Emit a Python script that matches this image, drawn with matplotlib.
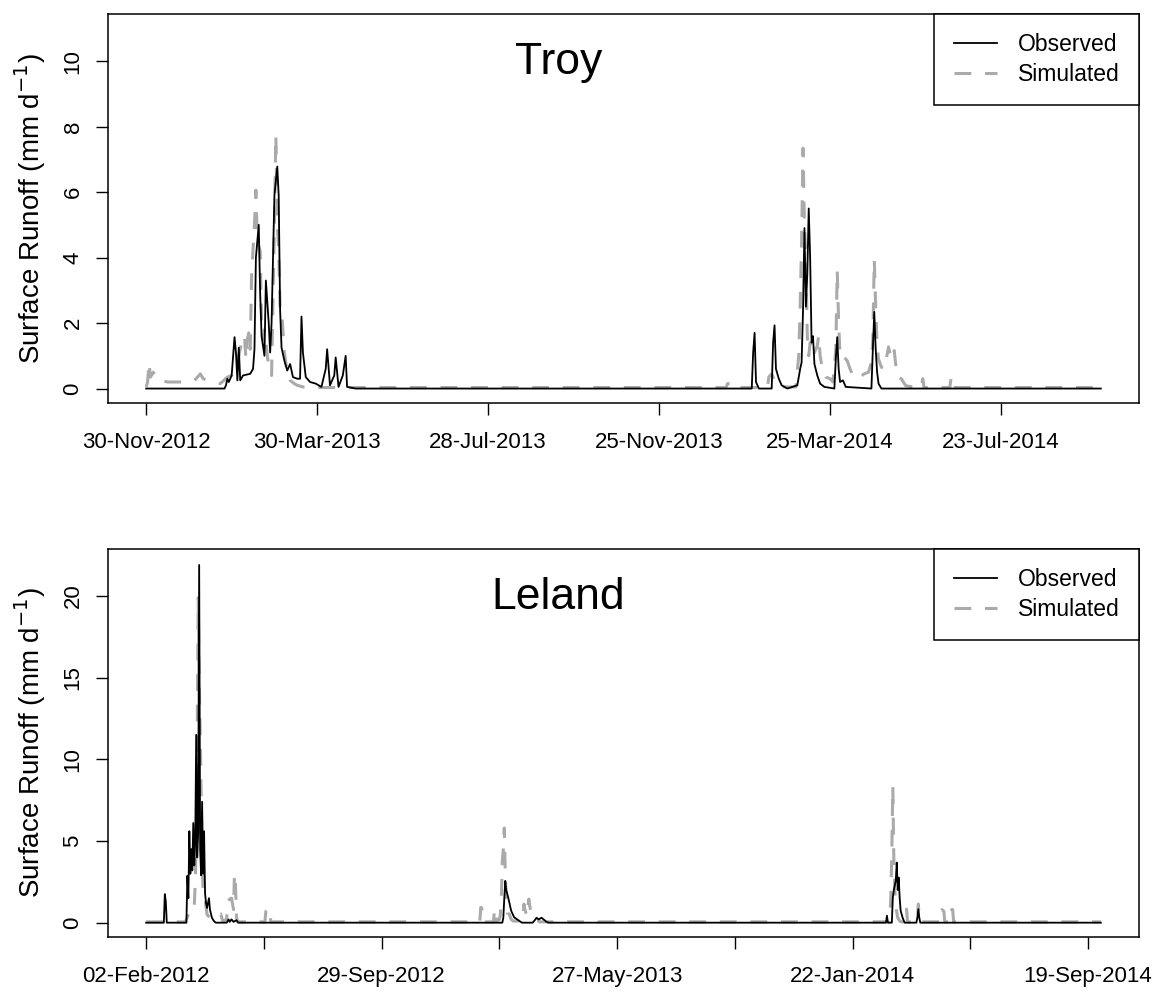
import numpy as np
import pandas as pd
import matplotlib
matplotlib.use("Agg")
import matplotlib.pyplot as plt

plt.rcParams['font.family'] = ['Liberation Sans', 'DejaVu Sans']

# (day since start, runoff mm/d) pairs
# Troy: days since 30-Nov-2012
TROY_START = "2012-11-30"
troy_obs = [(0, 0), (55, 0), (56, 0.1), (57, 0.3), (58, 0.2), (60, 0.4), (62, 1.57), (63, 1.1),
            (64, 0.25), (65, 1.25), (66, 0.25), (68, 0.4), (73, 0.45), (75, 0.6), (76, 1.2),
            (77, 4.0), (79, 5.0), (80, 2.9), (81, 1.6), (83, 1.0), (84, 3.3), (86, 2.0), (87, 1.1),
            (88, 2.0), (90, 5.9), (92, 6.78), (93, 5.9), (94, 2.4), (95, 1.25), (97, 0.85),
            (99, 0.55), (101, 0.75), (103, 0.35), (106, 0.3), (108, 0.3), (109, 2.2), (110, 1.1),
            (112, 0.35), (115, 0.2), (119, 0.15), (123, 0.05), (126, 0.6), (127, 1.2), (129, 0.1),
            (132, 0.4), (133, 0.95), (135, 0.05), (138, 0.4), (140, 1.0), (141, 0.05), (147, 0),
            (425, 0), (426, 1.1), (427, 1.7), (428, 0.2), (430, 0), (439, 0), (440, 1.4),
            (441, 1.93), (442, 0.6), (444, 0.3), (446, 0.1), (450, 0), (457, 0.1), (459, 0.6),
            (460, 0.8), (461, 2.4), (462, 4.9), (463, 2.5), (464, 3.5), (465, 5.5), (466, 4.0),
            (467, 1.4), (468, 1.6), (469, 0.75), (471, 0.4), (473, 0.15), (476, 0.05), (483, 0),
            (484, 0.9), (485, 1.57), (486, 0.6), (487, 0.2), (489, 0.25), (491, 0.05), (509, 0),
            (510, 1.2), (511, 2.34), (512, 1.2), (513, 0.5), (514, 0.15), (516, 0), (670, 0)]
troy_sim = [(0, 0.05), (1, 0.2), (2, 0.8), (3, 0.35), (5, 0.5), (7, 0.3), (10, 0.25), (15, 0.2),
            (20, 0.2), (25, 0.2), (30, 0.2), (34, 0.25), (38, 0.45), (40, 0.3), (43, 0.25),
            (48, 0.2), (52, 0.15), (57, 0.35), (60, 0.4), (63, 0.7), (65, 1.0), (67, 1.4),
            (68, 1.6), (69, 1.6), (70, 0.9), (71, 1.5), (72, 1.7), (73, 1.2), (74, 3.5), (76, 5.0),
            (77, 6.06), (78, 4.5), (80, 4.2), (81, 2.0), (82, 1.5), (83, 1.8), (85, 1.0),
            (87, 0.45), (88, 0.4), (90, 5.0), (91, 7.75), (92, 5.0), (93, 4.3), (94, 2.4),
            (95, 2.4), (97, 1.1), (99, 0.5), (101, 0.25), (104, 0.15), (106, 0.1), (110, 0.05),
            (120, 0.03), (407, 0.03), (408, 0.15), (410, 0.15), (411, 0.03), (436, 0.03),
            (437, 0.35), (439, 0.45), (440, 0.35), (442, 0.1), (444, 0.05), (456, 0.05),
            (458, 1.0), (459, 2.5), (460, 4.5), (461, 7.34), (462, 5.0), (463, 3.9), (464, 1.6),
            (465, 1.0), (466, 1.4), (468, 1.0), (470, 1.2), (471, 1.3), (472, 1.62), (473, 1.0),
            (475, 0.5), (477, 0.35), (480, 0.3), (482, 0.2), (484, 1.2), (485, 3.61), (486, 2.0),
            (487, 1.0), (488, 0.9), (490, 0.95), (492, 0.85), (494, 0.6), (496, 0.4), (498, 0.45),
            (501, 0.35), (504, 0.45), (507, 0.5), (509, 0.8), (510, 1.5), (511, 3.94), (512, 2.5),
            (513, 1.3), (514, 0.9), (516, 0.65), (518, 0.6), (519, 0.8), (521, 1.27), (523, 0.9),
            (525, 1.16), (527, 0.35), (530, 0.3), (533, 0.09), (540, 0.03), (544, 0.03),
            (545, 0.3), (546, 0.03), (564, 0.03), (565, 0.35), (566, 0.03), (670, 0.03)]

# Leland: days since 02-Feb-2012
LELAND_START = "2012-02-02"
leland_obs = [(0, 0), (18, 0), (19, 1.75), (20, 1.3), (21, 0), (41, 0), (42, 2.87), (43, 1.5),
              (44, 5.6), (45, 3.0), (46, 4.5), (47, 3.2), (48, 6.1), (49, 3.5), (50, 5.0),
              (51, 11.5), (52, 4.0), (53, 5.5), (54, 21.9), (55, 4.5), (56, 2.9), (57, 7.4),
              (58, 3.0), (59, 5.6), (60, 1.8), (61, 1.2), (62, 0.9), (64, 1.5), (65, 0.8),
              (67, 0.3), (69, 0.1), (71, 0), (82, 0), (84, 0.2), (85, 0.05), (87, 0.2), (89, 0.05),
              (92, 0.15), (94, 0), (363, 0), (364, 0.3), (365, 1.5), (366, 2.56), (367, 2.0),
              (369, 1.54), (372, 0.73), (375, 0.33), (380, 0.12), (383, 0), (394, 0), (396, 0.15),
              (398, 0.3), (400, 0.2), (403, 0.3), (406, 0.15), (408, 0.05), (410, 0), (754, 0),
              (755, 0.43), (756, 0), (760, 0), (761, 1.54), (762, 2.0), (764, 2.56), (765, 3.68),
              (766, 2.0), (767, 2.76), (768, 1.5), (769, 0.73), (771, 0.3), (773, 0), (785, 0),
              (786, 0.3), (787, 0.83), (788, 0.3), (789, 0), (973, 0)]
leland_sim = [(0, 0.05), (40, 0.05), (43, 0.5), (45, 1.0), (47, 1.0), (49, 1.0), (50, 2.5),
              (51, 5.0), (52, 11.0), (53, 19.9), (54, 15.0), (55, 11.8), (56, 8.0), (57, 4.0),
              (58, 2.0), (60, 1.5), (62, 0.5), (65, 0.3), (68, 0.2), (71, 0.3), (73, 0.45),
              (76, 0.53), (78, 0.1), (82, 0.2), (83, 1.2), (85, 1.45), (87, 1.5), (89, 0.8),
              (90, 3.0), (91, 2.4), (92, 0.4), (93, 0.05), (121, 0.05), (122, 0.7), (124, 0.85),
              (126, 0.85), (127, 0.05), (340, 0.05), (341, 0.93), (342, 0.9), (343, 0.05),
              (354, 0.05), (355, 0.85), (356, 0.7), (357, 0.1), (360, 0.2), (361, 0.5), (362, 1.54),
              (363, 3.8), (364, 4.5), (365, 5.8), (366, 3.0), (367, 1.2), (368, 0.6), (370, 0.53),
              (372, 0.2), (374, 0.1), (384, 0.1), (385, 1.14), (386, 0.8), (388, 0.4), (390, 1.44),
              (391, 1.0), (392, 0.75), (394, 0.3), (396, 0.15), (399, 0.15), (401, 0.05),
              (757, 0.05), (758, 0.4), (759, 1.54), (760, 4.4), (761, 8.35), (762, 4.0), (763, 2.0),
              (764, 1.0), (766, 0.3), (768, 0.1), (770, 0.05), (774, 0.05), (775, 0.83), (776, 0.05),
              (786, 0.05), (787, 1.14), (788, 0.3), (789, 0.05), (810, 0.05), (811, 0.8),
              (813, 0.7), (814, 0.05), (820, 0.05), (821, 0.8), (822, 0.8), (823, 0.05), (973, 0.05)]

GRAY = '#aaaaaa'


def draw_panel(ax, start, obs, sim, name, ymax, ystep, label_every):
    start = pd.Timestamp(start)
    obs_day, obs_val = zip(*obs)
    sim_day, sim_val = zip(*sim)
    obs_x = start + pd.to_timedelta(list(obs_day), unit='D')
    sim_x = start + pd.to_timedelta(list(sim_day), unit='D')
    ax.plot(sim_x, sim_val, color=GRAY, lw=2.2, dashes=(5.5, 4.5), label='Simulated')
    ax.plot(obs_x, obs_val, color='black', lw=1.3, label='Observed')

    # R style 4% range expansion
    lo, hi = min(obs_day), max(obs_day)
    pad = 0.04 * (hi - lo)
    ax.set_xlim(start + pd.Timedelta(days=lo - pad), start + pd.Timedelta(days=hi + pad))
    ax.set_ylim(-0.04 * ymax, ymax * 1.04)

    ticks = [start + pd.Timedelta(days=120 * k) for k in range(int(hi // 120) + 1)]
    ax.set_xticks(ticks)
    ax.set_xticklabels([t.strftime('%d-%b-%Y') if k % label_every == 0 else ''
                        for k, t in enumerate(ticks)])
    ax.set_yticks(np.arange(0, ymax - 0.5, ystep))
    ax.tick_params(axis='y', labelrotation=90)
    for lab in ax.get_yticklabels():
        lab.set_va('center')
    ax.tick_params(direction='out', length=8.6, width=1, labelsize=16)
    ax.tick_params(axis='x', pad=12)
    ax.tick_params(axis='y', pad=9)
    for sp in ax.spines.values():
        sp.set_linewidth(1.1)

    ax.set_ylabel('Surface Runoff (mm d$^{-1}$)', fontsize=20)
    ax.yaxis.set_label_coords(-0.058, 0.5)
    ax.text(0.437, 0.875, name, transform=ax.transAxes, fontsize=32,
            ha='center', va='center')

    h, l = ax.get_legend_handles_labels()
    leg = ax.legend(h[::-1], l[::-1], loc='upper right', bbox_to_anchor=(1, 1),
                    borderaxespad=0, fancybox=False, framealpha=1, edgecolor='black',
                    fontsize=16.5, handlelength=1.9, handletextpad=0.9,
                    borderpad=0.85, labelspacing=0.27)
    leg.get_frame().set_linewidth(1.1)


fig = plt.figure(figsize=(11.6, 9.92), dpi=100)
ax1 = fig.add_axes([0.0931, 0.5938, 0.8888, 0.3921])
ax2 = fig.add_axes([0.0931, 0.0554, 0.8888, 0.3912])

draw_panel(ax1, TROY_START, troy_obs, troy_sim, 'Troy', 11, 2, 1)
draw_panel(ax2, LELAND_START, leland_obs, leland_sim, 'Leland', 22, 5, 2)

fig.savefig('out.png', dpi=100)
